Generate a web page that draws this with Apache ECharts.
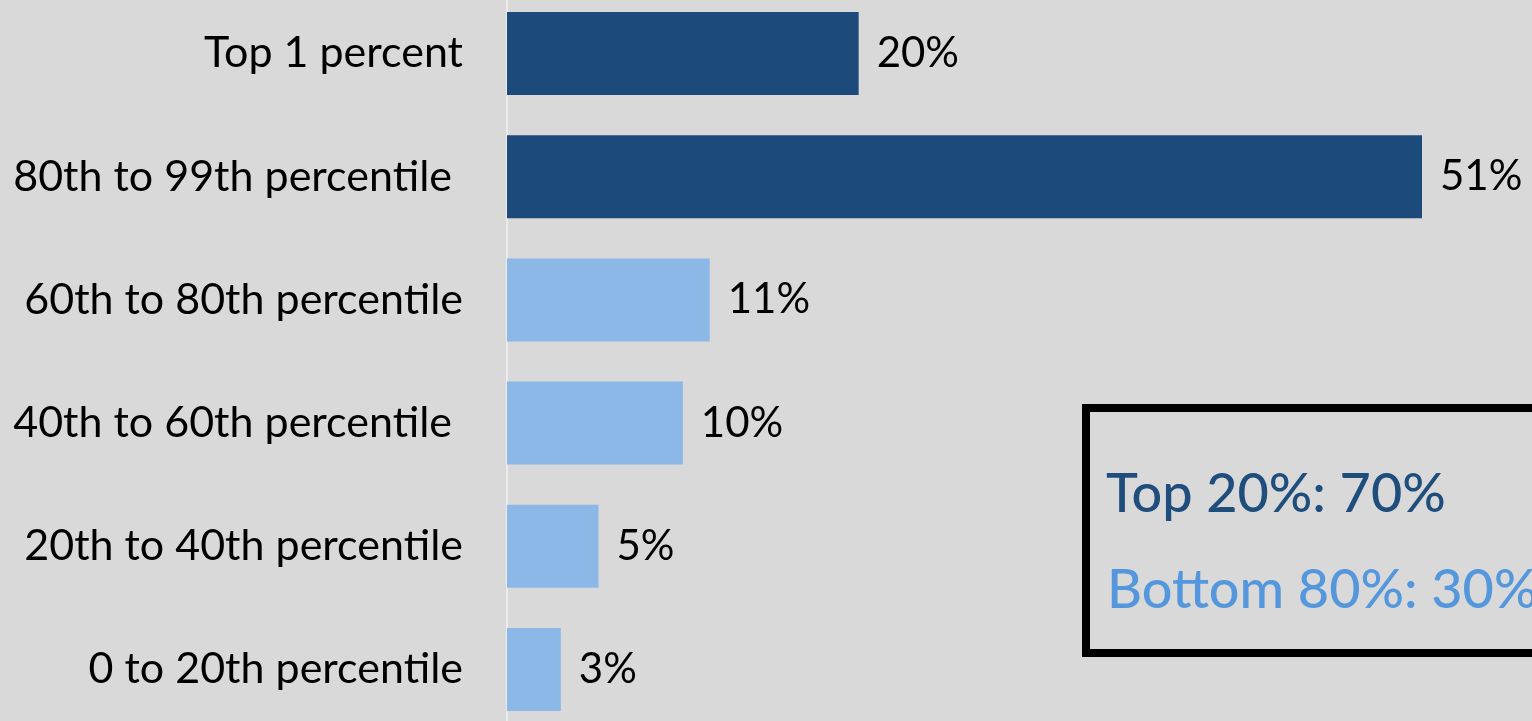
<!DOCTYPE html>
<html><head><meta charset="utf-8">
<script src="https://cdn.jsdelivr.net/npm/echarts@6/dist/echarts.min.js"></script>
<style>html,body{margin:0;padding:0;background:#d9d9d9;}#c{width:1532px;height:721px;}</style>
</head><body><div id="c"></div>
<script>
const categories = ["0 to 20th percentile","20th to 40th percentile","40th to 60th percentile ","60th to 80th percentile","80th to 99th percentile ","Top 1 percent"];
const shares = [3.0, 5.1, 9.8, 11.3, 51.0, 19.6];
const isTop = [false, false, false, false, true, true];
const summaryTop = "Top 20%: 70%";
const summaryBottom = "Bottom 80%: 30%";
const DARK = "#1c4a7b", LIGHT = "#8cb8e8";
const chart = echarts.init(document.getElementById('c'));
chart.setOption({
  backgroundColor: "#d9d9d9",
  animation: false,
  grid: {left: 507, right: 110, top: -8, height: 739, containLabel: false, outerBoundsMode: 'none'},
  xAxis: {type: 'value', min: 0, max: 51, show: false},
  yAxis: {type: 'category', data: categories,
    axisLine: {show: true, lineStyle: {color: '#ebebeb', width: 2}},
    axisTick: {show: false},
    axisLabel: {color: '#000', fontFamily: 'Lato', fontSize: 43, margin: 44}
  },
  series: [{type: 'bar', barCategoryGap: '32.6%',
    data: shares.map((v, i) => ({value: v, itemStyle: {color: isTop[i] ? DARK : LIGHT}})),
    label: {show: true, position: 'right', distance: 18, color: '#000', fontFamily: 'Lato', fontSize: 42,
      formatter: p => Math.round(p.value) + '%'}
  }],
  graphic: [
    {type: 'rect', shape: {x: 1086, y: 408, width: 500, height: 245}, style: {fill: 'none', stroke: '#000', lineWidth: 8}},
    {type: 'text', x: 1106, y: 495, style: {text: summaryTop, fill: '#1f4e7d', font: '500 54px Lato', verticalAlign: 'middle'}},
    {type: 'text', x: 1107, y: 591, style: {text: summaryBottom, fill: '#5597dc', font: '500 54px Lato', verticalAlign: 'middle'}}
  ]
});
</script></body></html>
